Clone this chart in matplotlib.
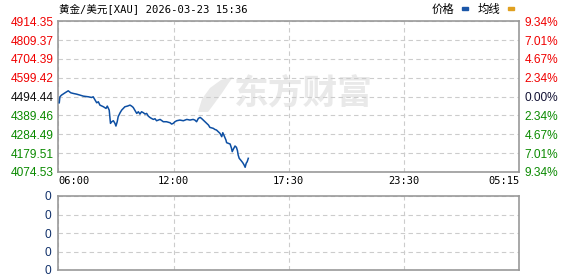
#!/usr/bin/env python3
"""
Gold / USD intraday chart (XAU), redrawn with matplotlib.
"""

import numpy as np
import matplotlib.pyplot as plt
from matplotlib.patches import Polygon, Rectangle

# Data
title = "黄金/美元[XAU] 2026-03-23 15:36"
session_labels = ["06:00", "12:00", "17:30", "23:30", "05:15"]
session_minutes = [0, 360, 690, 1050, 1395]  # minutes after 06:00

price_ticks = [4074.53, 4179.51, 4284.49, 4389.46, 4494.44,
               4599.42, 4704.39, 4809.37, 4914.35]
pct_labels = ["9.34%", "7.01%", "4.67%", "2.34%", "0.00%",
              "2.34%", "4.67%", "7.01%", "9.34%"]
prev_close = 4494.44

# minutes after 06:00 and price
minutes = [3, 5, 10, 21, 31, 39, 47, 57, 68, 78, 94, 104, 109, 115, 120,
           125, 130, 141, 149, 153, 159, 161, 163, 167, 172, 177, 180, 184,
           187, 193, 198, 203, 208, 216, 224, 229, 234, 240, 245, 250, 255,
           260, 266, 271, 276, 281, 286, 291, 297, 302, 307, 318, 328, 338,
           349, 354, 359, 364, 369, 378, 388, 398, 407, 416, 421, 426, 431,
           436, 440, 445, 450, 455, 460, 464, 474, 478, 483, 488, 493, 498,
           501, 504, 510, 512, 517, 522, 526, 528, 531, 536, 540, 543, 545,
           548, 552, 558, 562, 565, 568, 571, 574]
prices = [4460.3, 4493.6, 4502.9, 4515.9, 4527.0, 4515.9, 4512.2, 4508.5,
          4502.9, 4497.4, 4493.6, 4489.9, 4493.6, 4475.1, 4460.3, 4465.8,
          4447.3, 4438.1, 4428.8, 4441.8, 4419.5, 4382.5, 4345.4, 4354.7,
          4360.2, 4345.4, 4330.6, 4354.7, 4382.5, 4404.7, 4419.5, 4428.8,
          4438.1, 4441.8, 4447.3, 4441.8, 4434.3, 4415.8, 4401.0, 4410.3,
          4397.3, 4410.3, 4404.7, 4397.3, 4401.0, 4386.2, 4378.8, 4373.2,
          4367.6, 4371.4, 4360.2, 4367.6, 4354.7, 4354.7, 4349.1, 4341.7,
          4345.4, 4354.7, 4360.2, 4364.0, 4360.2, 4367.6, 4364.0, 4367.6,
          4364.0, 4354.7, 4373.2, 4378.8, 4373.2, 4364.0, 4354.7, 4345.4,
          4336.1, 4323.2, 4317.6, 4312.0, 4308.3, 4299.1, 4289.8, 4271.3,
          4293.5, 4280.6, 4252.7, 4237.9, 4234.2, 4230.5, 4206.4, 4187.9,
          4200.9, 4219.4, 4212.0, 4193.5, 4169.4, 4150.8, 4141.6, 4126.8,
          4113.8, 4100.8, 4123.1, 4132.3, 4150.8]

volume_labels = ["0", "0", "0", "0", "0"]

W, H = 578, 276
RED = "#f00000"
GREEN = "#0a8a00"
LINE = "#0d4fa3"
GRID = "#cccccc"
FRAME = "#999999"
NUM_FONT = ["Liberation Sans", "DejaVu Sans"]
MONO_FONT = ["DejaVu Sans Mono", "Noto Sans CJK SC"]


def to_pos(m):
    # sessions are drawn with equal width, not linear in time
    return np.interp(m, session_minutes, np.arange(len(session_minutes)))


def style_axes(ax):
    for s in ax.spines.values():
        s.set_color(FRAME)
        s.set_linewidth(1.2)
    ax.tick_params(length=0)
    ax.set_axisbelow(True)
    ax.grid(True, color=GRID, linestyle=(0, (4, 3)), linewidth=0.8)
    ax.set_xlim(0, len(session_labels) - 1)
    ax.set_xticks(range(len(session_labels)))


fig = plt.figure(figsize=(W / 100, H / 100), dpi=100)

# price panel
ax = fig.add_axes([58.3 / W, 1 - 172 / H, 461 / W, 150.7 / H])
style_axes(ax)
ax.set_ylim(price_ticks[0], price_ticks[-1])
ax.set_yticks(price_ticks)
ax.set_yticklabels([f"{p:.2f}" for p in price_ticks], family=NUM_FONT, fontsize=8.6)
for lab, p in zip(ax.get_yticklabels(), price_ticks):
    lab.set_color(RED if p > prev_close + 1 else GREEN if p < prev_close - 1 else "#111111")
ax.tick_params(axis="y", pad=3)
ax.set_xticklabels(session_labels, family=MONO_FONT, fontsize=7.5)
ax.tick_params(axis="x", pad=3)
xl = ax.get_xticklabels()
xl[0].set_ha("left")
xl[-1].set_ha("right")

axr = ax.twinx()
axr.set_ylim(ax.get_ylim())
axr.set_yticks(price_ticks)
axr.set_yticklabels(pct_labels, family=NUM_FONT, fontsize=8.6)
for lab, p in zip(axr.get_yticklabels(), price_ticks):
    lab.set_color(RED if p > prev_close + 1 else GREEN if p < prev_close - 1 else "#111133")
axr.tick_params(length=0, pad=4)
for s in axr.spines.values():
    s.set_visible(False)

ax.plot(to_pos(minutes), prices, color=LINE, linewidth=1.1, zorder=3)

# watermark
ax.text(234 / W, 1 - 93 / H, "东方财富", transform=fig.transFigure, fontsize=25,
        family=["Noto Sans CJK SC"], fontweight="bold", color="#e9e9e9",
        ha="left", va="center", zorder=0.2)
logo_px = [(198, 112), (202, 99), (210, 88), (221, 80), (233, 77),
           (228, 84), (222, 93), (214, 104), (208, 112)]
logo = Polygon([(x, H - y) for x, y in logo_px], closed=True, transform=None,
               facecolor="#e9e9e9", edgecolor="none", zorder=0.2)
ax.add_artist(logo)

# volume panel
ax2 = fig.add_axes([58.3 / W, 1 - 270 / H, 461 / W, 74 / H])
style_axes(ax2)
ax2.set_ylim(0, len(volume_labels) - 1)
ax2.set_yticks(range(len(volume_labels)))
ax2.set_yticklabels(volume_labels, family=NUM_FONT, fontsize=8.6, color="#10306a")
ax2.tick_params(axis="y", pad=5)
ax2.set_xticklabels([])

# title and legend
fig.text(59 / W, 1 - 9 / H, title, family=MONO_FONT, fontsize=7.6,
         ha="left", va="center", color="#000000")
fig.text(432 / W, 1 - 9 / H, "价格", family=["Noto Sans CJK SC"], fontsize=8.2,
         ha="left", va="center")
fig.text(478 / W, 1 - 9 / H, "均线", family=["Noto Sans CJK SC"], fontsize=8.2,
         ha="left", va="center")
fig.patches.append(Rectangle((462 / W, 1 - 10 / H), 6 / W, 3 / H,
                             transform=fig.transFigure, color="#1a56a8"))
fig.patches.append(Rectangle((508 / W, 1 - 10 / H), 6 / W, 3 / H,
                             transform=fig.transFigure, color="#e0a020"))

fig.savefig("out.png", dpi=100)
